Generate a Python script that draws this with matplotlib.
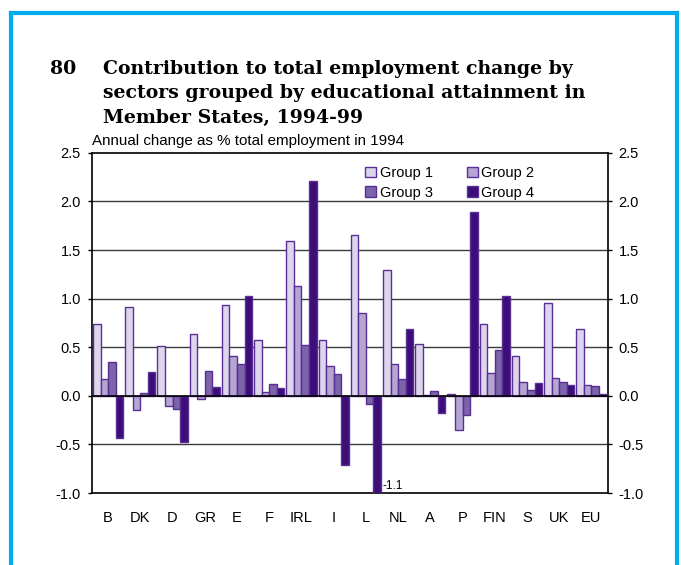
import numpy as np
import matplotlib.pyplot as plt
from matplotlib.lines import Line2D

# Contribution to employment change, 1994-99, by country
countries = ["B", "DK", "D", "GR", "E", "F", "IRL", "I", "L", "NL",
             "A", "P", "FIN", "S", "UK", "EU"]
group1 = [0.74, 0.91, 0.51, 0.64, 0.93, 0.57, 1.59, 0.57, 1.66, 1.30,
          0.53, 0.02, 0.74, 0.41, 0.96, 0.69]
group2 = [0.17, -0.15, -0.10, -0.03, 0.41, 0.04, 1.13, 0.31, 0.85, 0.33,
          0.01, -0.35, 0.23, 0.14, 0.18, 0.11]
group3 = [0.35, 0.03, -0.14, 0.26, 0.33, 0.12, 0.52, 0.22, -0.08, 0.17,
          0.05, -0.20, 0.47, 0.06, 0.14, 0.10]
group4 = [-0.43, 0.25, -0.48, 0.09, 1.03, 0.08, 2.21, -0.71, -1.1, 0.69,
          -0.18, 1.89, 1.03, 0.13, 0.11, 0.02]

series = [("Group 1", group1, "#ddd5eb"),
          ("Group 2", group2, "#b5a5d3"),
          ("Group 3", group3, "#7c63aa"),
          ("Group 4", group4, "#3d0e7a")]

fs = 10.5
sans = "Liberation Sans"

fig = plt.figure(figsize=(6.81, 5.65), dpi=100)
ax = fig.add_axes([0.1351, 0.1274, 0.757, 0.602])

x = np.arange(len(countries))
w = 0.235
bars = []
for i, (name, vals, col) in enumerate(series):
    b = ax.bar(x + (i - 1.5) * w, vals, width=w, color=col, edgecolor="#5a2f94",
               linewidth=1.0, label=name, zorder=3)
    bars.append(b)

ax.set_xlim(-0.5, len(countries) - 0.5)
ax.set_ylim(-1.0, 2.5)
yt = np.arange(-1.0, 2.51, 0.5)
ax.set_yticks(yt)
ax.set_yticklabels([f"{v:.1f}" for v in yt])
ax.set_xticks(x)
ax.set_xticklabels(countries)

for v in [-0.5, 0.5, 1.0, 1.5, 2.0]:
    ax.axhline(v, color="#3a3a3a", linewidth=1.0, zorder=1)
ax.axhline(0, color="black", linewidth=1.2, zorder=4)

for s in ax.spines.values():
    s.set_linewidth(1.2)

ax.tick_params(axis="y", which="both", direction="out", length=3, width=1,
               right=True, labelright=True, labelsize=fs, pad=5)
ax.tick_params(axis="x", length=0, labelsize=fs, pad=13)
for lbl in ax.get_xticklabels() + ax.get_yticklabels():
    lbl.set_family(sans)

# L, group 4 runs past the bottom of the axis
ax.text(8 + 1.5 * w + 0.16, -0.93, "-1.1", fontsize=8.5, family=sans,
        va="center", ha="left", zorder=5)

# legend rows: Group 1 / Group 2, then Group 3 / Group 4
order = [0, 2, 1, 3]
ax.legend([bars[i] for i in order], [series[i][0] for i in order],
          loc="upper left", bbox_to_anchor=(0.505, 1.0), ncol=2,
          frameon=False, handlelength=0.75, handleheight=0.75,
          handletextpad=0.25, columnspacing=2.3, labelspacing=0.4,
          prop={"family": sans, "size": fs})

fig.text(92 / 681, 1 - 141 / 565, "Annual change as % total employment in 1994",
         fontsize=10.9, family=sans, va="center", ha="left")

title_lines = ["Contribution to total employment change by",
               "sectors grouped by educational attainment in",
               "Member States, 1994-99"]
tfont = dict(fontsize=13.6, weight="bold", family="DejaVu Serif",
             va="baseline", ha="left")
fig.text(50 / 681, 1 - 74 / 565, "80", **tfont)
for k, line in enumerate(title_lines):
    fig.text(103 / 681, 1 - (74 + 24.5 * k) / 565, line, **tfont)

# blue frame round the panel
bc = "#00aeef"
fig.add_artist(Line2D([11 / 681, 11 / 681], [0, 1 - 13 / 565], color=bc, lw=3))
fig.add_artist(Line2D([677 / 681, 677 / 681], [0, 1 - 13 / 565], color=bc, lw=3))
fig.add_artist(Line2D([11 / 681, 677 / 681], [1 - 13 / 565, 1 - 13 / 565], color=bc,
                      lw=3, solid_capstyle="projecting"))

fig.savefig("out.png", dpi=100)
